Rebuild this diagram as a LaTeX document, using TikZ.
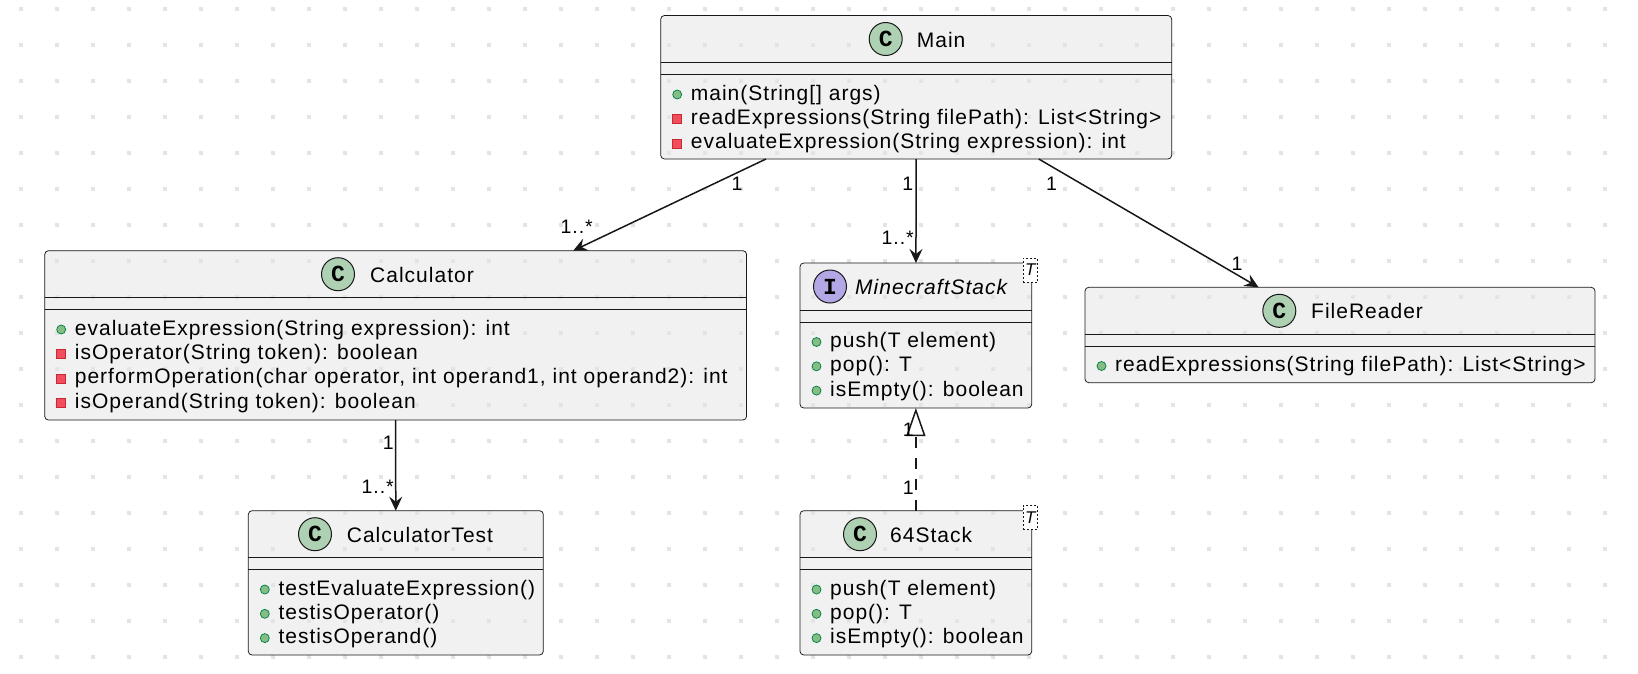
\documentclass[tikz,border=0pt]{standalone}
\usepackage{fontspec}
\setmainfont{Liberation Sans}[LetterSpace=4.8]
\newfontfamily\circfont{Liberation Mono Bold}
\usetikzlibrary{arrows.meta,calc}
\definecolor{boxfill}{HTML}{F1F1F1}
\definecolor{edge}{HTML}{181818}
\definecolor{pubf}{HTML}{84BE84}
\definecolor{pubd}{HTML}{038048}
\definecolor{privf}{HTML}{F24D5C}
\definecolor{privd}{HTML}{C82930}
\definecolor{cgreen}{HTML}{ADD1B2}
\definecolor{ipurple}{HTML}{B4A7E5}
\definecolor{griddot}{HTML}{E4E4E4}
\pgfdeclarelayer{bg}
\pgfdeclarelayer{dots}
\pgfsetlayers{bg,dots,main}
\tikzset{
  classbox/.style={draw=edge, line width=0.75pt, rounded corners=3.75pt, inner sep=0pt, outer sep=0pt, anchor=north west},
  member/.style={inner sep=0pt, anchor=base west, font=\fontsize{21}{24}\selectfont},
  titletext/.style={inner sep=0pt, anchor=base west, font=\fontsize{21}{24}\selectfont},
  lbl/.style={inner sep=0pt, font=\fontsize{19.5}{21}\selectfont},
  assoc/.style={draw=edge, line width=1.5pt, -{Stealth[length=14pt,width=13pt,inset=5pt]}},
  realize/.style={draw=edge, line width=1.5pt, dash pattern=on 10.5pt off 10.5pt, -{Triangle[open,length=28pt,width=19pt,line width=1.5pt]}},
  sepline/.style={draw=edge, line width=0.75pt},
  badge/.style={circle, draw=edge, line width=1pt, minimum size=33pt, inner sep=0pt, font=\circfont\fontsize{23}{23}\selectfont},
  tparam/.style={draw=edge, dash pattern=on 2pt off 2pt, fill=white, line width=0.75pt, minimum width=14.7pt, minimum height=24pt, inner sep=0pt, font=\itshape\fontsize{17}{17}\selectfont},
}
\newcommand\pubrow[4]{%
  \filldraw[fill=pubf, draw=pubd, line width=0.75pt] (#2+16.5,#3-5.5) circle (4.5pt);
  \node[member] (#1) at (#2+30,#3) {#4};}
\newcommand\privrow[4]{%
  \filldraw[fill=privf, draw=privd, line width=0.75pt] (#2+12,#3-9.5) rectangle ++(9,9);
  \node[member] (#1) at (#2+30,#3) {#4};}
\newcommand\classseps[1]{%
  \draw[sepline] ($(#1.north west)+(0,47)$) -- ($(#1.north east)+(0,47)$);
  \draw[sepline] ($(#1.north west)+(0,59)$) -- ($(#1.north east)+(0,59)$);}
\begin{document}
\begin{tikzpicture}[x=1pt,y=-1pt]
\useasboundingbox (0,0) rectangle (1638,673);
\begin{pgfonlayer}{bg}
  \fill[white] (0,0) rectangle (1638,673);
\end{pgfonlayer}
\begin{pgfonlayer}{dots}
  \foreach \i in {0,...,44} {
    \foreach \j in {0,...,18} {
      \fill[griddot] (19+36*\i,7+36*\j) rectangle ++(4,4);
    }
  }
\end{pgfonlayer}

% class boxes
\node[classbox, minimum width=511pt, minimum height=143.5pt] (main) at (660.7,15.5) {};
\node[classbox, minimum width=701.9pt, minimum height=169.3pt] (calc) at (44.7,250.7) {};
\node[classbox, minimum width=231.7pt, minimum height=145pt] (mstack) at (800,263) {};
\node[classbox, minimum width=510pt, minimum height=95.4pt] (freader) at (1085,287.3) {};
\node[classbox, minimum width=295pt, minimum height=144.3pt] (ctest) at (248.3,510.7) {};
\node[classbox, minimum width=231.7pt, minimum height=144.3pt] (stack64) at (800,510.7) {};

\begin{pgfonlayer}{bg}
  \foreach \n in {main,calc,mstack,freader,ctest,stack64} {
    \fill[boxfill, rounded corners=3.75pt] (\n.north west) rectangle (\n.south east);
  }
\end{pgfonlayer}

\classseps{main}
\classseps{calc}
\classseps{mstack}
\classseps{freader}
\classseps{ctest}
\classseps{stack64}

% headers
\node[badge, fill=cgreen] (mainb) at (885.7,39) {C};
\node[titletext] (maint) at (916.7,47) {Main};
\node[badge, fill=cgreen] (calcb) at (338,274.2) {C};
\node[titletext] (calct) at (370,282.2) {Calculator};
\node[badge, fill=ipurple] (mstackb) at (830,286.5) {I};
\node[titletext, font=\itshape\fontsize{21}{24}\selectfont] (mstackt) at (855,294.5) {MinecraftStack};
\node[tparam] (mstackp) at (1030.3,270) {T};
\node[badge, fill=cgreen] (freaderb) at (1279.3,310.8) {C};
\node[titletext] (freadert) at (1311,318.8) {FileReader};
\node[badge, fill=cgreen] (ctestb) at (315,534.2) {C};
\node[titletext] (ctestt) at (346.7,542.2) {CalculatorTest};
\node[badge, fill=cgreen] (stack64b) at (860,534.2) {C};
\node[titletext] (stack64t) at (890,542.2) {64Stack};
\node[tparam] (stack64p) at (1030.3,517.7) {T};

% members
\pubrow{m1}{660.7}{100}{main(String[] args)}
\privrow{m2}{660.7}{124.3}{readExpressions(String filePath): List<String>}
\privrow{m3}{660.7}{148.6}{evaluateExpression(String expression): int}

\pubrow{c1}{44.7}{335}{evaluateExpression(String expression): int}
\privrow{c2}{44.7}{359.3}{isOperator(String token): boolean}
\privrow{c3}{44.7}{383.6}{performOperation(char operator, int operand1, int operand2): int}
\privrow{c4}{44.7}{408}{isOperand(String token): boolean}

\pubrow{s1}{800}{347.5}{push(T element)}
\pubrow{s2}{800}{371.8}{pop(): T}
\pubrow{s3}{800}{396.1}{isEmpty(): boolean}

\pubrow{f1}{1085}{371.5}{readExpressions(String filePath): List<String>}

\pubrow{t1}{248.3}{595}{testEvaluateExpression()}
\pubrow{t2}{248.3}{619.3}{testisOperator()}
\pubrow{t3}{248.3}{643.6}{testisOperand()}

\pubrow{k1}{800}{595}{push(T element)}
\pubrow{k2}{800}{619.3}{pop(): T}
\pubrow{k3}{800}{643.6}{isEmpty(): boolean}

% connectors
\draw[assoc] (main) -- (calc);
\draw[assoc] (main) -- (mstack);
\draw[assoc] (main) -- (freader);
\draw[assoc] (calc) -- (ctest);
\draw[realize] (stack64) -- (mstack);

% multiplicities
\node[lbl, anchor=base west] (l1) at (731.5,190.5) {1};
\node[lbl, anchor=base west] (l2) at (560.5,233.3) {1..*};
\node[lbl, anchor=base east] (l3) at (913.5,190.7) {1};
\node[lbl, anchor=base east] (l4) at (914,244) {1..*};
\node[lbl, anchor=base west] (l5) at (1046,190) {1};
\node[lbl, anchor=base west] (l6) at (1231.5,270.7) {1};
\node[lbl, anchor=base east] (l7) at (394,449.3) {1};
\node[lbl, anchor=base east] (l8) at (394,493.3) {1..*};
\node[lbl, anchor=base east] (l9) at (914,436.7) {1};
\node[lbl, anchor=base east] (l10) at (914,494) {1};
\end{tikzpicture}
\end{document}
